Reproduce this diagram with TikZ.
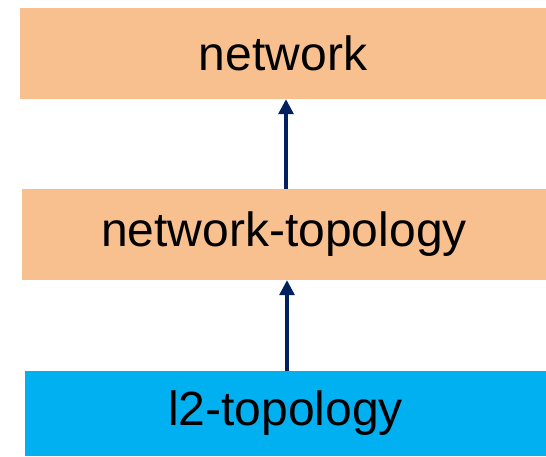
\documentclass[tikz,border=0pt]{standalone}
\usepackage{fontspec}
\setmainfont{Liberation Sans}
\usetikzlibrary{arrows.meta}
\definecolor{peach}{RGB}{249,192,143}
\definecolor{skyblue}{RGB}{0,176,240}
\definecolor{navy}{RGB}{0,32,96}
\begin{document}
\begin{tikzpicture}[x=1pt,y=-1pt,
    layer/.style={inner sep=0pt,minimum height=91pt,
      font=\fontsize{48}{53}\selectfont},
    uses/.style={draw=navy,line width=3.2pt,
      -{Triangle[length=15pt,width=15pt]}}]
      \useasboundingbox (0,0) rectangle (546,456);
      \draw
        (283,53.5) node[layer,fill=peach,minimum width=526pt] (net){network}
        (284,234.5) node[layer,fill=peach,minimum width=524pt] (ntopo){network-topology}
        (285.5,413.5) node[layer,fill=skyblue,minimum width=521pt,
          minimum height=85pt] (ltopo){l2-topology};
      \begin{scope}
        \draw[uses] ([xshift=2pt]ntopo.north) to ([xshift=3pt]net.south);
        \draw[uses] ([xshift=1.5pt]ltopo.north) to ([xshift=3pt]ntopo.south);
      \end{scope}
    \end{tikzpicture}
\end{document}
